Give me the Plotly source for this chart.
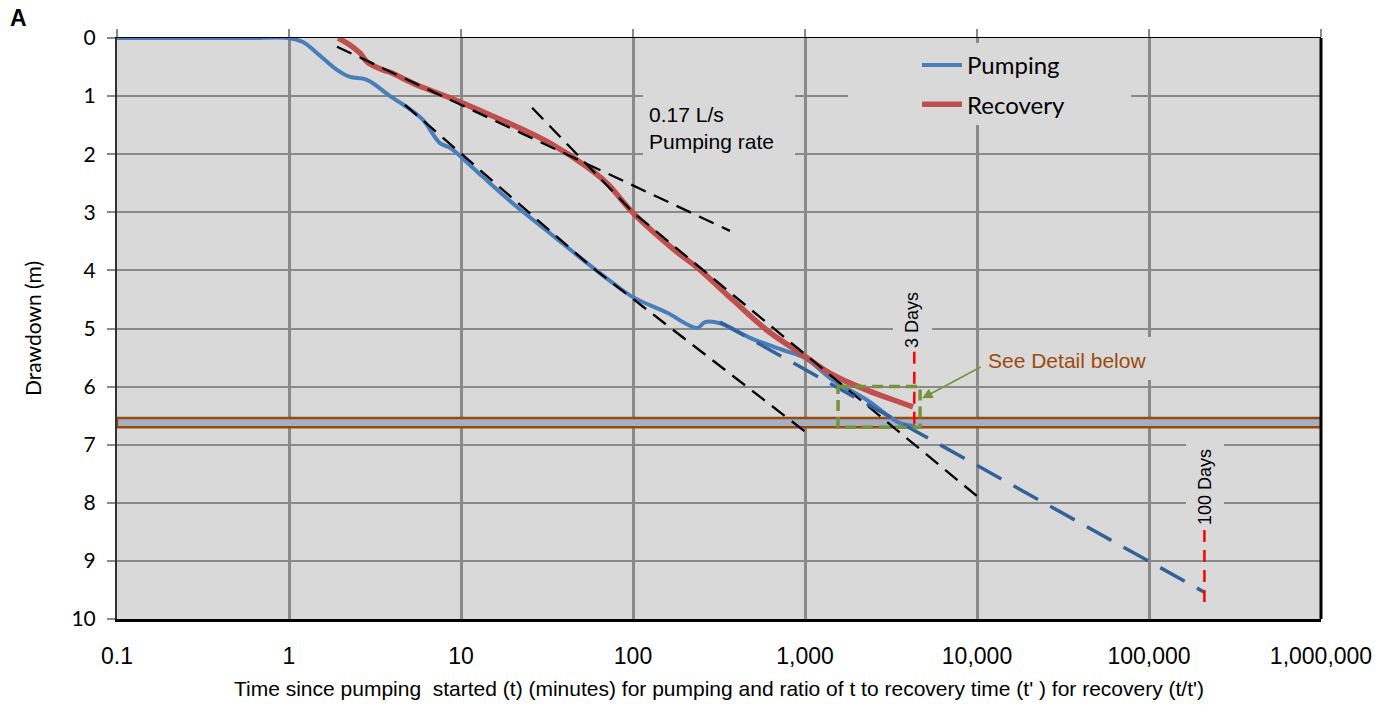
import math
import plotly.graph_objects as go

# ---------------- data ----------------
pump_t = [0.1, 0.3, 0.6, 0.987, 1.205, 1.455, 1.90, 2.26, 2.84, 3.87, 4.85, 6.01, 7.55, 8.63,
          9.86, 13.4, 21.2, 32.9, 51.2, 76.5, 100, 158, 236, 262, 321, 479, 745, 1000, 1456,
          2291, 3565, 4365]
pump_s = [0.0, 0.0, 0.0, 0.0, 0.07, 0.26, 0.55, 0.67, 0.72, 1.00, 1.19, 1.41, 1.81, 1.89,
          2.03, 2.39, 2.91, 3.36, 3.82, 4.22, 4.46, 4.73, 4.99, 4.89, 4.91, 5.16, 5.37, 5.51, 5.89,
          6.23, 6.63, 6.68]

rec_t = [1.93, 2.26, 2.59, 2.84, 3.52, 3.87, 5.55, 8.63, 13.4, 21.2, 32.9, 54.1, 70.6, 100,
         171, 245, 381, 601, 935, 1456, 2291, 3565, 4246]
rec_s = [0.0, 0.12, 0.26, 0.41, 0.55, 0.59, 0.81, 1.03, 1.27, 1.53, 1.81, 2.22, 2.50, 3.01,
         3.63, 3.99, 4.51, 5.03, 5.42, 5.80, 6.06, 6.27, 6.35]

# fitted lines (dashed black)
fit_rec_early_t = [1.9, 366]
fit_rec_early_s = [0.15, 3.32]
fit_rec_late_t = [25.9, 100, 10140]
fit_rec_late_s = [1.20, 3.00, 7.90]
fit_pump_early_t = [4.72, 58.5, 1028]
fit_pump_early_s = [1.15, 3.96, 6.80]

# extrapolation of pumping (dashed blue)
extrap_t = [321, 210000]
extrap_s = [4.89, 9.54]

# marker lines
day3_t = [4320, 4320]
day3_s = [5.40, 6.70]
day100_t = [210000, 210000]
day100_s = [8.47, 9.76]

# detail box
box_t = [1556, 4667, 4667, 1556, 1556]
box_s = [6.00, 6.00, 6.70, 6.70, 6.00]

# horizontal band
band_s = [6.54, 6.70]

x_ticks = [0.1, 1, 10, 100, 1000, 10000, 100000, 1000000]
x_ticktext = ["0.1", "1", "10", "100", "1,000", "10,000", "100,000", "1,000,000"]
y_ticks = list(range(0, 11))

BLUE = "#4a7ebb"
RED = "#c0504d"
DKBLUE = "#33629b"
GREEN = "#77933c"
BROWN = "#9c4a0c"
BG = "#d9d9d9"
GRID = "#8a8a8a"

W, H = 1392, 709
L, R, T, B = 117, 71, 38, 90
PW, PH = W - L - R, H - T - B


def px(xp):
    return (xp - L) / PW


def py(yp):
    return (H - B - yp) / PH


def tx(xp):  # pixel -> time value (for placing backdrops)
    return 10 ** (-1 + (xp - L) * 7 / PW)


def sy(yp):  # pixel -> drawdown value
    return (yp - T) * 10 / PH


fig = go.Figure()

fig.add_trace(go.Scatter(
    x=[x_ticks[0], x_ticks[-1], x_ticks[-1], x_ticks[0], x_ticks[0]],
    y=[band_s[0], band_s[0], band_s[1], band_s[1], band_s[0]],
    mode="lines", fill="toself", fillcolor="#a5b1c2",
    line=dict(color=BROWN, width=2.5), showlegend=False, hoverinfo="skip"))

fig.add_trace(go.Scatter(x=pump_t, y=pump_s, mode="lines", name="Pumping",
                         line=dict(color=BLUE, width=4, shape="spline", smoothing=1.0),
                         legendgroup="p"))
fig.add_trace(go.Scatter(x=rec_t, y=rec_s, mode="lines", name="Recovery",
                         line=dict(color=RED, width=5.5, shape="spline", smoothing=1.0),
                         legendgroup="r"))

for tt, ss in [(fit_rec_early_t, fit_rec_early_s), (fit_rec_late_t, fit_rec_late_s),
               (fit_pump_early_t, fit_pump_early_s)]:
    fig.add_trace(go.Scatter(x=tt, y=ss, mode="lines",
                             line=dict(color="black", width=2.3, dash="16px,9px"),
                             showlegend=False, hoverinfo="skip"))

fig.add_trace(go.Scatter(x=extrap_t, y=extrap_s, mode="lines",
                         line=dict(color=DKBLUE, width=3.5, dash="28px,14px"),
                         showlegend=False, hoverinfo="skip"))

fig.add_trace(go.Scatter(x=box_t, y=box_s, mode="lines",
                         line=dict(color=GREEN, width=3.5, dash="11px,6px"),
                         showlegend=False, hoverinfo="skip"))

for tt, ss in [(day3_t, day3_s), (day100_t, day100_s)]:
    fig.add_trace(go.Scatter(x=tt, y=ss, mode="lines", xaxis="x2",
                             line=dict(color="#ff0000", width=2.5, dash="12px,8px"),
                             showlegend=False, hoverinfo="skip"))

shapes = []
# text backdrops hiding grid lines (between grid and traces)
for (x0, x1, y0, y1) in [(848, 1131, 43, 125), (643, 795, 92, 158), (893, 932, 284, 348),
                         (982, 1152, 337, 380), (1186, 1224, 440, 528)]:
    shapes.append(dict(type="rect", xref="x", yref="y", x0=tx(x0), x1=tx(x1),
                       y0=sy(y0), y1=sy(y1), fillcolor=BG, line=dict(width=0), layer="between"))
# right border
shapes.append(dict(type="line", xref="paper", yref="paper", x0=1, x1=1, y0=0, y1=1,
                   line=dict(color="black", width=3)))

FONT = "Liberation Sans, Arial"
annotations = [
    dict(text="<b>A</b>", xref="paper", yref="paper", x=px(8), y=py(18), xanchor="left",
         yanchor="middle", showarrow=False, font=dict(family=FONT, size=23, color="black")),
    dict(text="0.17 L/s<br>Pumping rate", xref="paper", yref="paper", x=px(647), y=py(128),
         xanchor="left", yanchor="middle", align="left", showarrow=False,
         font=dict(family=FONT, size=21, color="black")),
    dict(text="3 Days", xref="paper", yref="paper", x=px(912), y=py(320), textangle=-90,
         xanchor="center", yanchor="middle",
         showarrow=False, font=dict(family=FONT, size=18, color="black")),
    dict(text="100 Days", xref="paper", yref="paper", x=px(1205), y=py(487), textangle=-90,
         xanchor="center", yanchor="middle",
         showarrow=False, font=dict(family=FONT, size=18, color="black")),
    dict(text="See Detail below", xref="paper", yref="paper", x=px(1067), y=py(360),
         xanchor="center", yanchor="middle",
         showarrow=False, font=dict(family=FONT, size=21, color=BROWN)),
    dict(text="", xref="x", yref="y", x=math.log10(4800), y=6.2, ax=60, ay=-32,
         showarrow=True, arrowhead=2, arrowsize=1.3, arrowwidth=1.6, arrowcolor=GREEN),
]

fig.update_layout(
    width=W, height=H,
    margin=dict(l=L, r=R, t=T, b=B),
    paper_bgcolor="white", plot_bgcolor=BG,
    shapes=shapes, annotations=annotations,
    xaxis=dict(type="log", range=[-1, 6], tickvals=x_ticks, ticktext=x_ticktext,
               showgrid=True, gridcolor=GRID, gridwidth=3, zeroline=False,
               showline=True, linecolor="black", linewidth=3, ticks="",
               ticklabelstandoff=14,
               tickfont=dict(family=FONT, size=23, color="black"),
               title=dict(text="Time since pumping  started (t) (minutes) for pumping and ratio of t to recovery time (t' ) for recovery (t/t')",
                          font=dict(family=FONT, size=21, color="black"),
                          standoff=14)),
    xaxis2=dict(type="log", range=[-1, 6], overlaying="x", side="top", anchor="y",
                tickvals=x_ticks, showticklabels=False, ticks="outside", ticklen=8,
                tickcolor=GRID, tickwidth=2, showgrid=False, zeroline=False,
                showline=True, linecolor="black", linewidth=1),
    yaxis=dict(range=[10, 0], tickvals=y_ticks, showgrid=True, gridcolor=GRID, gridwidth=2,
               zeroline=False, showline=True, linecolor="#333333", linewidth=2,
               ticks="outside", ticklen=8, tickcolor=GRID, tickwidth=2, ticklabelstandoff=7,
               tickfont=dict(family="Lato", size=21, color="black"),
               title=dict(text="Drawdown (m)", font=dict(family="Lato", size=21, color="black"),
                          standoff=24)),
    legend=dict(x=px(917), y=py(43), xanchor="left", yanchor="top", bgcolor="rgba(0,0,0,0)",
                font=dict(family="Lato", size=24, color="black"), traceorder="grouped",
                tracegroupgap=5, itemwidth=40),
    showlegend=True,
)

fig.write_html("out.html")
